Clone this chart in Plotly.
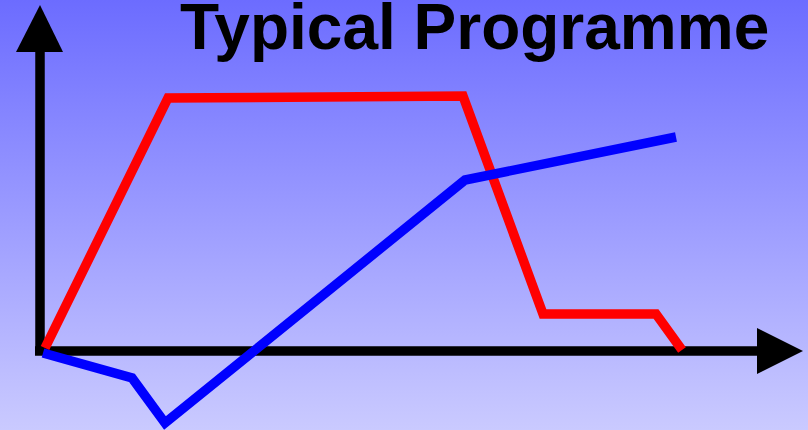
import plotly.graph_objects as go

# ---------- data (arbitrary units, origin at the axes corner) ----------
red_x = [5, 128, 423, 503, 616, 642]
red_y = [3, 253, 255, 37, 37, 1]

blue_x = [3, 92, 125, 425, 636]
blue_y = [-2, -27, -72, 171, 214]

TITLE = "Typical Programme"

# plot window in data units (pixel 0..808 / 430..0)
X_RANGE = [-40, 768]
Y_RANGE = [-79, 351]

TOP_COLOR = "rgb(108,108,255)"
BOTTOM_COLOR = "rgb(202,202,255)"

fig = go.Figure()

# gradient background
fig.add_trace(go.Scatter(
    x=[X_RANGE[0], X_RANGE[1], X_RANGE[1], X_RANGE[0], X_RANGE[0]],
    y=[Y_RANGE[0], Y_RANGE[0], Y_RANGE[1], Y_RANGE[1], Y_RANGE[0]],
    mode="lines", line=dict(width=0), fill="toself",
    fillgradient=dict(type="vertical",
                      colorscale=[[0, BOTTOM_COLOR], [1, TOP_COLOR]]),
    hoverinfo="skip", showlegend=False))

# axes with arrow heads
fig.add_trace(go.Scatter(x=[0, 0], y=[-4, 300], mode="lines",
                         line=dict(color="black", width=9.5),
                         hoverinfo="skip", showlegend=False))
fig.add_trace(go.Scatter(x=[-5, 718], y=[0, 0], mode="lines",
                         line=dict(color="black", width=9.5),
                         hoverinfo="skip", showlegend=False))
fig.add_trace(go.Scatter(x=[-24, 23, 0, -24], y=[299, 299, 346, 299],
                         mode="lines", line=dict(color="black", width=0),
                         fill="toself", fillcolor="black",
                         hoverinfo="skip", showlegend=False))
fig.add_trace(go.Scatter(x=[717, 717, 763, 717], y=[23, -23, 0, 23],
                         mode="lines", line=dict(color="black", width=0),
                         fill="toself", fillcolor="black",
                         hoverinfo="skip", showlegend=False))

# series
fig.add_trace(go.Scatter(x=red_x, y=red_y, mode="lines",
                         line=dict(color="#ff0000", width=9.5),
                         showlegend=False))
fig.add_trace(go.Scatter(x=blue_x, y=blue_y, mode="lines",
                         line=dict(color="#0000ff", width=9.5),
                         showlegend=False))

fig.add_annotation(text=f"<b>{TITLE}</b>", x=434, xref="x",
                   y=(430 - 27) / 430, yref="paper", yanchor="middle",
                   showarrow=False,
                   font=dict(family="Liberation Sans, Arial", size=64,
                             color="black"))

fig.update_layout(width=808, height=430,
                  margin=dict(l=0, r=0, t=0, b=0),
                  paper_bgcolor=BOTTOM_COLOR, plot_bgcolor=BOTTOM_COLOR,
                  xaxis=dict(range=X_RANGE, visible=False, fixedrange=True),
                  yaxis=dict(range=Y_RANGE, visible=False, fixedrange=True),
                  showlegend=False)

fig.write_html("out.html", config={"displayModeBar": False},
               post_script="document.body.style.margin='0px';")
